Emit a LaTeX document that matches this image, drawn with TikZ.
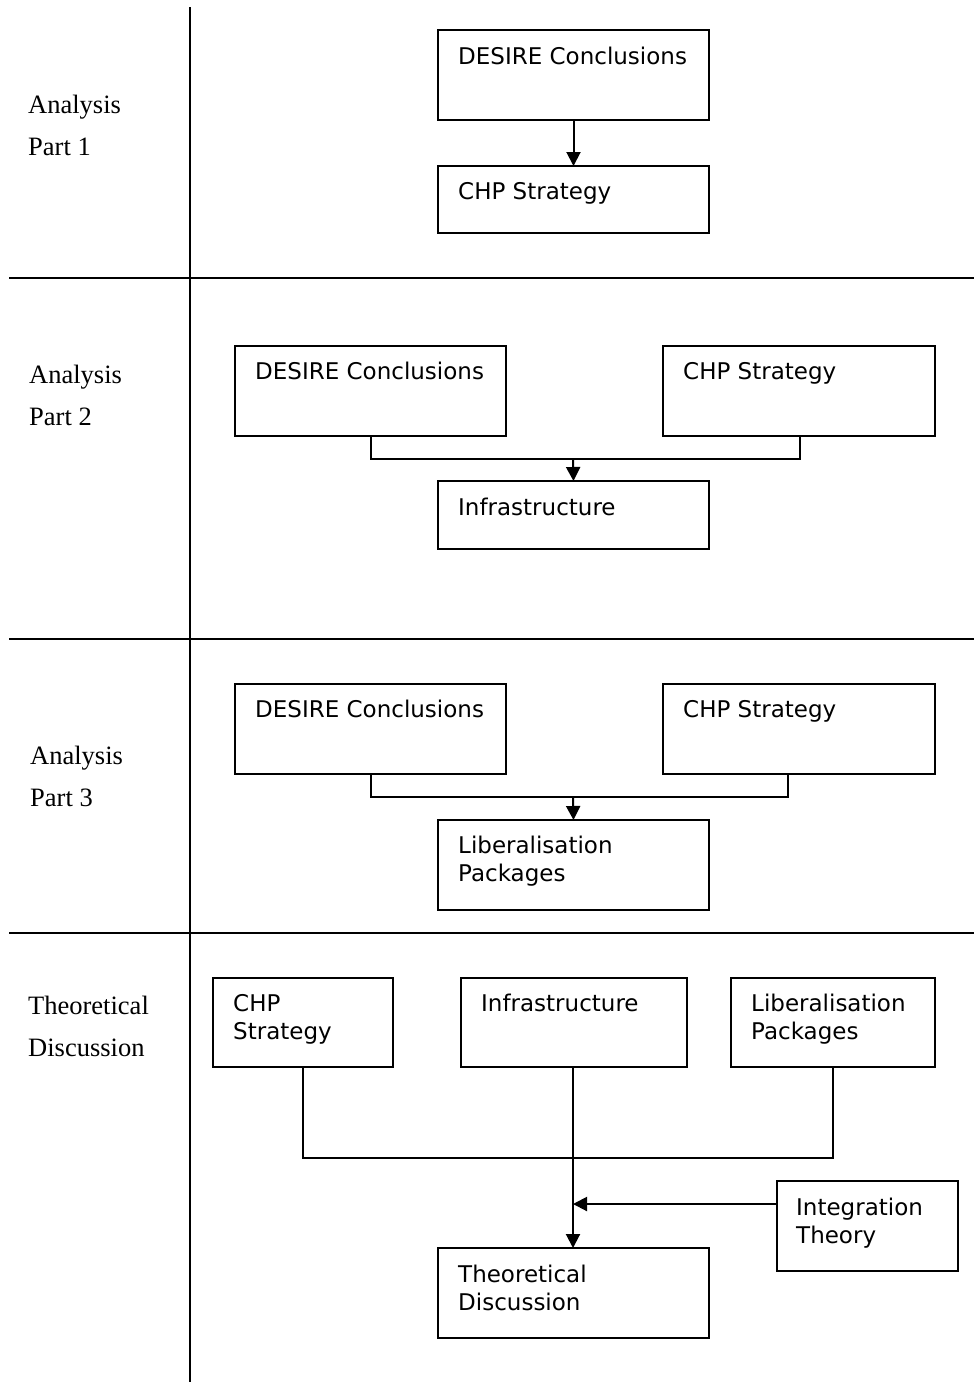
\documentclass[tikz,border=0pt]{standalone}
\usepackage{fontspec}
\setmainfont{Liberation Serif}
\newfontfamily\boxfont{DejaVu Sans}
\usetikzlibrary{arrows.meta}

% The base anchor of a multi-line node sits on its last baseline,
% so two-line texts are placed by their second line.
\tikzset{
  rule/.style={line width=2pt},
  box/.style={draw, line width=2pt, rectangle, inner sep=0pt, outer sep=0pt,
              anchor=north west},
  boxtext/.style={anchor=base west, inner sep=0pt, align=left,
                  font=\boxfont\fontsize{23}{28}\selectfont},
  sidetext/.style={anchor=base west, inner sep=0pt, align=left,
                   font=\fontsize{26.5}{42}\selectfont},
  wire/.style={line width=2pt},
  arrow/.style={line width=2pt, -{Triangle[width=14pt,length=14pt]}},
}

\begin{document}
\begin{tikzpicture}[x=1pt, y=-1pt]
\useasboundingbox (0,0) rectangle (974,1382);

% frame of the four sections
\coordinate (vtop) at (190,7);
\coordinate (vbot) at (190,1382);
\draw[rule] (vtop) -- (vbot);
\coordinate (h1a) at (9,278);   \coordinate (h1b) at (974,278);
\coordinate (h2a) at (9,639);   \coordinate (h2b) at (974,639);
\coordinate (h3a) at (9,933);   \coordinate (h3b) at (974,933);
\draw[rule] (h1a) -- (h1b);
\draw[rule] (h2a) -- (h2b);
\draw[rule] (h3a) -- (h3b);

% section titles
\node[sidetext] (s1) at (28,155) {Analysis\\Part 1};
\node[sidetext] (s2) at (29,425) {Analysis\\Part 2};
\node[sidetext] (s3) at (30,806) {Analysis\\Part 3};
\node[sidetext] (s4) at (28,1056) {Theoretical\\Discussion};

% ---- Analysis Part 1
\node[box, minimum width=271pt, minimum height=90pt] (a1dc) at (438,30) {};
\node[boxtext] at ([shift={(20,34)}]a1dc.north west) {DESIRE Conclusions};
\node[box, minimum width=271pt, minimum height=67pt] (a1chp) at (438,166) {};
\node[boxtext] at ([shift={(20,33)}]a1chp.north west) {CHP Strategy};
\draw[arrow] (a1dc.south) -- (a1chp.north);

% ---- Analysis Part 2
\node[box, minimum width=271pt, minimum height=90pt] (a2dc) at (235,346) {};
\node[boxtext] at ([shift={(20,33)}]a2dc.north west) {DESIRE Conclusions};
\node[box, minimum width=272pt, minimum height=90pt] (a2chp) at (663,346) {};
\node[boxtext] at ([shift={(20,33)}]a2chp.north west) {CHP Strategy};
\node[box, minimum width=271pt, minimum height=68pt] (a2inf) at (438,481) {};
\node[boxtext] at ([shift={(20,34)}]a2inf.north west) {Infrastructure};
\coordinate (a2j) at (573,459);
\draw[wire] (a2dc.south -| 371,0) |- (a2j) -| (a2chp.south -| 800,0);
\draw[arrow] (a2j) -- (a2inf.north);

% ---- Analysis Part 3
\node[box, minimum width=271pt, minimum height=90pt] (a3dc) at (235,684) {};
\node[boxtext] at ([shift={(20,33)}]a3dc.north west) {DESIRE Conclusions};
\node[box, minimum width=272pt, minimum height=90pt] (a3chp) at (663,684) {};
\node[boxtext] at ([shift={(20,33)}]a3chp.north west) {CHP Strategy};
\node[box, minimum width=271pt, minimum height=90pt] (a3lib) at (438,820) {};
\node[boxtext] at ([shift={(20,61)}]a3lib.north west) {Liberalisation\\Packages};
\coordinate (a3j) at (573,797);
\draw[wire] (a3dc.south -| 371,0) |- (a3j) -| (a3chp.south -| 788,0);
\draw[arrow] (a3j) -- (a3lib.north);

% ---- Theoretical Discussion
\node[box, minimum width=180pt, minimum height=89pt] (tchp) at (213,978) {};
\node[boxtext] at ([shift={(20,61.5)}]tchp.north west) {CHP\\Strategy};
\node[box, minimum width=226pt, minimum height=89pt] (tinf) at (461,978) {};
\node[boxtext] at ([shift={(20,33.5)}]tinf.north west) {Infrastructure};
\node[box, minimum width=204pt, minimum height=89pt] (tlib) at (731,978) {};
\node[boxtext] at ([shift={(20,61.5)}]tlib.north west) {Liberalisation\\Packages};
\node[box, minimum width=181pt, minimum height=90pt] (tint) at (777,1181) {};
\node[boxtext] at ([shift={(19,62)}]tint.north west) {Integration\\Theory};
\node[box, minimum width=271pt, minimum height=90pt] (ttd) at (438,1248) {};
\node[boxtext] at ([shift={(20,62)}]ttd.north west) {Theoretical\\Discussion};

\coordinate (tj) at (573,1158);
\coordinate (tin) at (573,1204);
\draw[wire] (tchp.south -| 303,0) |- (tj) -| (tlib.south -| 833,0);
\draw[arrow] (tinf.south -| tj) -- (ttd.north -| tj);
\draw[arrow] (tint.west |- tin) -- (tin);
\end{tikzpicture}
\end{document}
